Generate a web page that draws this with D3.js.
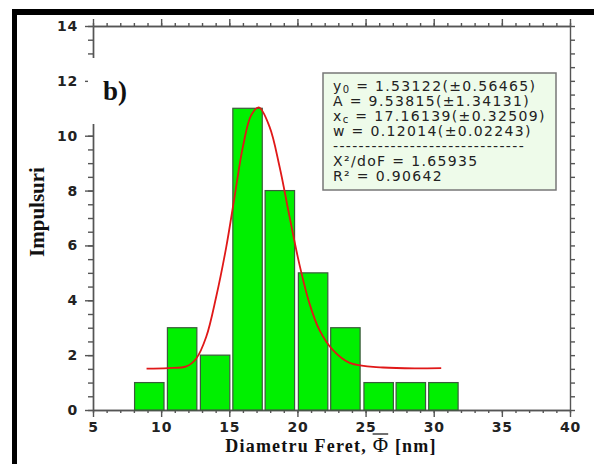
<!DOCTYPE html>
<html lang="ro">
<head>
  <meta charset="utf-8">
  <script src="https://cdn.jsdelivr.net/npm/d3@7/dist/d3.min.js"></script>
  <style>
    body { margin: 0; background: #fff; }
    svg { display: block; }
    .axis path, .axis line { stroke: #555; stroke-width: 1.4; }
    .fitbox text { font-family: "DejaVu Sans", Verdana, sans-serif; font-size: 14px; letter-spacing: 1.35px; fill: #222; }
    .lbl { font-family: "Liberation Serif", "Times New Roman", serif; font-weight: bold; fill: #111; }
  </style>
</head>
<body>
<svg id="chart" width="594" height="464"></svg>
<script>
  // histogram bins (centre of bin, counts)
  var binCenters = [9.13, 11.54, 13.96, 16.34, 18.71, 21.15, 23.52, 25.96, 28.32, 30.71];
  var counts     = [1, 3, 2, 11, 8, 5, 3, 1, 1, 1];
  var binWidth = 2.16;

  // fitted curve
  var fitX = [8.93, 10.5, 11.85, 12.58, 13.31, 14.04, 14.78, 15.39, 16.0, 16.61, 17.17,
              17.95, 18.69, 19.42, 20.15, 20.88, 21.61, 22.59, 23.83, 26.28, 30.55];
  var fitY = [1.51, 1.53, 1.59, 1.88, 2.67, 4.13, 5.95, 7.78, 9.6, 10.75, 11.03,
              10.33, 8.87, 7.05, 5.3, 3.89, 2.92, 2.19, 1.72, 1.55, 1.53];

  var fitLines = [
    ["y", "0", " = 1.53122(\u00b10.56465)"],
    ["A", "", "  = 9.53815(\u00b11.34131)"],
    ["x", "c", " = 17.16139(\u00b10.32509)"],
    ["w", "", "  = 0.12014(\u00b10.02243)"],
    ["------------------------------", "", ""],
    ["X\u00b2/doF = 1.65935", "", ""],
    ["R\u00b2 = 0.90642", "", ""]
  ];

  var xTicks = [5, 10, 15, 20, 25, 30, 35, 40];
  var yTicks = [0, 2, 4, 6, 8, 10, 12, 14];

  var svg = d3.select("#chart");

  var x = d3.scaleLinear().domain([5, 40]).range([93, 570]);
  var y = d3.scaleLinear().domain([0, 14]).range([410, 26]);

  // black frame bits of the scanned figure
  svg.append("rect").attr("x", 12).attr("y", 9).attr("width", 5).attr("height", 455).attr("fill", "#000");
  svg.append("rect").attr("x", 12).attr("y", 9).attr("width", 582).attr("height", 6).attr("fill", "#000");

  var minorX = d3.range(5, 40.01, 1);
  var minorY = d3.range(0, 14.01, 0.5);

  // bottom
  svg.append("g").attr("class", "axis").attr("transform", "translate(0,410)")
    .call(d3.axisBottom(x).tickValues(minorX).tickSize(3).tickFormat("").tickSizeOuter(0));
  svg.append("g").attr("class", "axis").attr("transform", "translate(0,410)")
    .call(d3.axisBottom(x).tickValues(xTicks).tickSize(7).tickPadding(5).tickFormat(d3.format("d")).tickSizeOuter(0));
  // top
  svg.append("g").attr("class", "axis").attr("transform", "translate(0,26)")
    .call(d3.axisTop(x).tickValues(minorX).tickSize(3).tickFormat("").tickSizeOuter(0));
  svg.append("g").attr("class", "axis").attr("transform", "translate(0,26)")
    .call(d3.axisTop(x).tickValues(xTicks).tickSize(7).tickFormat("").tickSizeOuter(0));
  // left
  svg.append("g").attr("class", "axis").attr("transform", "translate(93,0)")
    .call(d3.axisLeft(y).tickValues(minorY).tickSize(5).tickFormat("").tickSizeOuter(0));
  svg.append("g").attr("class", "axis").attr("transform", "translate(93,0)")
    .call(d3.axisLeft(y).tickValues(yTicks).tickSize(8).tickPadding(7).tickFormat(d3.format("d")).tickSizeOuter(0));
  // right
  svg.append("g").attr("class", "axis").attr("transform", "translate(570,0)")
    .call(d3.axisRight(y).tickValues(minorY).tickSize(5).tickFormat("").tickSizeOuter(0));

  svg.selectAll(".axis text")
    .attr("font-family", "DejaVu Sans, Verdana, sans-serif")
    .attr("font-size", 14)
    .attr("letter-spacing", "0.8px")
    .attr("font-weight", "bold")
    .attr("fill", "#222");

  // bars
  svg.append("g").selectAll("rect")
    .data(binCenters)
    .enter().append("rect")
      .attr("x", function(d) { return x(d - binWidth / 2); })
      .attr("y", function(d, i) { return y(counts[i]); })
      .attr("width", function(d) { return x(d + binWidth / 2) - x(d - binWidth / 2); })
      .attr("height", function(d, i) { return y(0) - y(counts[i]); })
      .attr("fill", "#00f000")
      .attr("stroke", "#3c5a3c")
      .attr("stroke-width", 1.2);

  // fit curve
  var line = d3.line()
    .x(function(d) { return x(d[0]); })
    .y(function(d) { return y(d[1]); })
    .curve(d3.curveCatmullRom);
  svg.append("path")
    .datum(d3.zip(fitX, fitY))
    .attr("d", line)
    .attr("fill", "none")
    .attr("stroke", "#e01818")
    .attr("stroke-width", 1.8);

  // "b)" panel label with white background over the axis
  svg.append("rect").attr("x", 88).attr("y", 58).attr("width", 50).attr("height", 66).attr("fill", "#fff");
  svg.append("text").attr("class", "lbl").attr("x", 103).attr("y", 100)
    .style("font-size", "27px").text("b)");

  // fit results box
  var box = svg.append("g").attr("class", "fitbox");
  box.append("rect").attr("x", 323).attr("y", 73).attr("width", 233).attr("height", 117)
    .attr("fill", "#eefbea").attr("stroke", "#777").attr("stroke-width", 1.5);
  fitLines.forEach(function(l, i) {
    var t = box.append("text").attr("x", 333).attr("y", 91 + i * 15);
    t.append("tspan").text(l[0]);
    if (l[1]) t.append("tspan").attr("dy", 1.5).style("font-size", "10px").text(l[1]);
    if (l[2]) t.append("tspan").attr("dy", l[1] ? -1.5 : 0).text(l[2]);
  });

  // axis titles
  var xt = svg.append("text").attr("class", "lbl").attr("x", 331).attr("y", 452)
    .attr("text-anchor", "middle").style("font-size", "18px").style("letter-spacing", "1.2px");
  xt.append("tspan").text("Diametru Feret, ");
  var phi = xt.append("tspan").style("font-weight", "normal").style("font-size", "21px").text("\u03a6");
  xt.append("tspan").text(" [nm]");
  // overline on the Phi
  var pb = phi.node().getBBox();
  svg.append("line")
    .attr("x1", pb.x).attr("x2", pb.x + pb.width - 1)
    .attr("y1", pb.y + 1).attr("y2", pb.y + 1)
    .attr("stroke", "#111").attr("stroke-width", 1.2);

  svg.append("text").attr("class", "lbl")
    .attr("transform", "translate(44,212) rotate(-90)")
    .attr("text-anchor", "middle").style("font-size", "21px").text("Impulsuri");
</script>
</body>
</html>
